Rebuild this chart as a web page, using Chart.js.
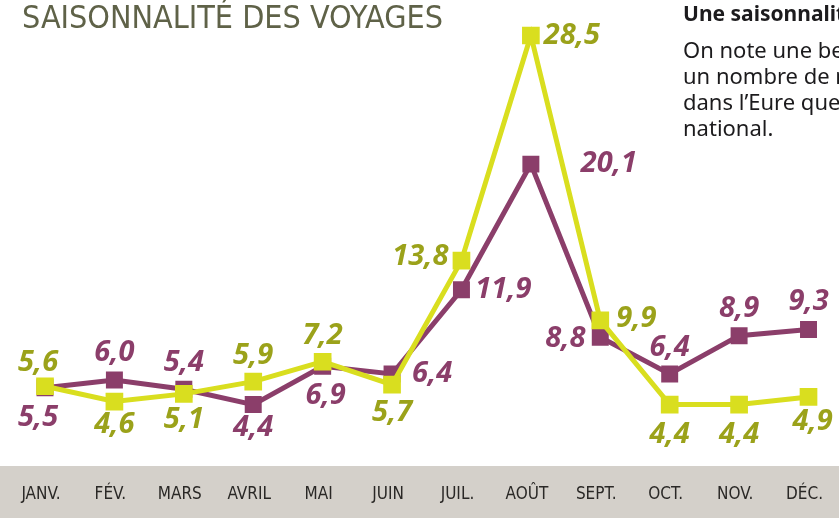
<!DOCTYPE html>
<html lang="fr">
<head>
<meta charset="utf-8">
<script src="https://cdn.jsdelivr.net/npm/chart.js@4.4.0/dist/chart.umd.min.js"></script>
<style>
  html, body { margin: 0; padding: 0; background: #fff; }
  #wrap { position: relative; width: 839px; height: 518px; overflow: hidden; }
  #wrap canvas { position: absolute; left: 0; top: 0; }
  .titre {
    position: absolute; left: 22px; top: -2px;
    font-family: "DejaVu Sans Condensed", "DejaVu Sans", sans-serif;
    font-size: 32px; color: #5f6248; white-space: nowrap;
  }
  .encart {
    position: absolute; left: 683px; top: 0; width: 200px;
    font-family: "Noto Sans", sans-serif; color: #1c1b1d; white-space: nowrap;
  }
  .encart h4 { margin: 0 0 0 0; font-size: 21px; font-weight: 700; line-height: 26px; }
  .encart p { margin: 10px 0 0 0; font-size: 22px; line-height: 26px; }
</style>
</head>
<body>
<div id="wrap">
  <canvas id="chart-saison" width="839" height="518"></canvas>
  <div class="titre">SAISONNALITÉ DES VOYAGES</div>
  <div class="encart">
    <h4>Une saisonnalité marquée</h4>
    <p>On note une belle saisonnalité avec<br>un nombre de nuitées plus élevé<br>dans l’Eure que sur le territoire<br>national.</p>
  </div>
</div>
<script>
// --- DONNÉES ---
const mois = ['JANV.', 'FÉV.', 'MARS', 'AVRIL', 'MAI', 'JUIN', 'JUIL.', 'AOÛT', 'SEPT.', 'OCT.', 'NOV.', 'DÉC.'];
const valeursEure = [5.6, 4.6, 5.1, 5.9, 7.2, 5.7, 13.8, 28.5, 9.9, 4.4, 4.4, 4.9];
const valeursFrance = [5.5, 6.0, 5.4, 4.4, 6.9, 6.4, 11.9, 20.1, 8.8, 6.4, 8.9, 9.3];

// placement des étiquettes autour de chaque point (dx, dy en px)
const placementEure = [[-7,-23],[0,23],[0,26],[0,-26],[0,-26],[0,28],[-41,-4],[41,0],[36,-2],[0,30],[0,30],[4,25]];
const placementFrance = [[-7,30],[0,-27],[0,-27],[0,23],[3,29],[40,0],[42,0],[78,0],[-35,2],[0,-26],[0,-27],[0,-28]];

const jaune = '#d9de1f';
const jauneTexte = '#9ba21a';
const violet = '#8b3e6a';

// bandeau gris sous le graphique
const bandeau = {
    id: 'bandeau',
    beforeDraw(chart) {
        const ctx = chart.ctx;
        ctx.save();
        ctx.fillStyle = '#d4d0ca';
        ctx.fillRect(0, 466, chart.width, chart.height - 466);
        ctx.restore();
    }
};

// étiquettes de valeurs (virgule décimale)
const etiquettes = {
    id: 'etiquettes',
    afterDatasetsDraw(chart) {
        const ctx = chart.ctx;
        ctx.save();
        ctx.font = 'italic 700 29px "Open Sans", sans-serif';
        ctx.textAlign = 'center';
        ctx.textBaseline = 'middle';
        chart.data.datasets.forEach((ds, i) => {
            const meta = chart.getDatasetMeta(i);
            meta.data.forEach((pt, j) => {
                const [dx, dy] = ds.placement[j];
                ctx.fillStyle = ds.couleurTexte;
                ctx.fillText(ds.data[j].toFixed(1).replace('.', ','), pt.x + dx, pt.y + dy);
            });
        });
        ctx.restore();
    }
};

const ctx = document.getElementById('chart-saison').getContext('2d');
new Chart(ctx, {
    type: 'line',
    data: {
        labels: mois,
        datasets: [
            {
                label: 'Eure',
                data: valeursEure,
                borderColor: jaune,
                backgroundColor: jaune,
                borderWidth: 5,
                pointStyle: 'rect',
                pointRadius: 12.5,
                pointBorderWidth: 0,
                tension: 0,
                placement: placementEure,
                couleurTexte: jauneTexte
            },
            {
                label: 'France',
                data: valeursFrance,
                borderColor: violet,
                backgroundColor: violet,
                borderWidth: 5,
                pointStyle: 'rect',
                pointRadius: 12,
                pointBorderWidth: 0,
                tension: 0,
                placement: placementFrance,
                couleurTexte: violet
            }
        ]
    },
    options: {
        responsive: false,
        animation: false,
        layout: { padding: { left: 45, right: 30, top: 10, bottom: 0 } },
        plugins: { legend: { display: false }, tooltip: { enabled: false } },
        scales: {
            y: { display: false, min: 0, max: 30 },
            x: {
                offset: false,
                afterFit: (scale) => { scale.height = 46; },
                grid: { display: false, drawTicks: false },
                border: { display: false },
                ticks: {
                    padding: 12,
                    labelOffset: -4,
                    maxRotation: 0,
                    autoSkip: false,
                    color: '#2a2826',
                    font: { family: '"DejaVu Sans Condensed", sans-serif', size: 17 }
                }
            }
        }
    },
    plugins: [bandeau, etiquettes]
});
</script>
</body>
</html>
